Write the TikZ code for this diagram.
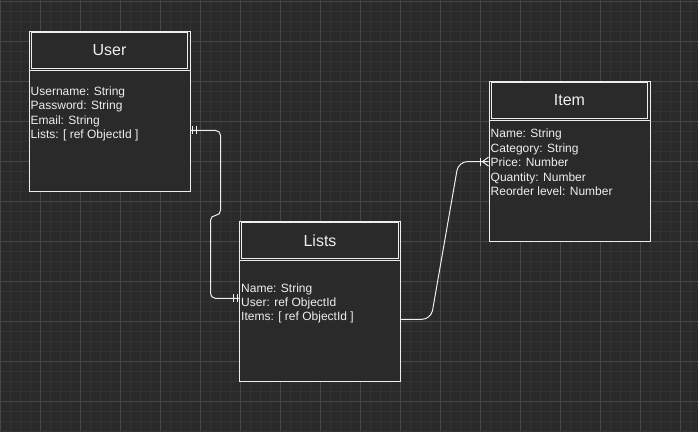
\documentclass[tikz,border=0pt]{standalone}
\usepackage{fontspec}
\setmainfont{Liberation Sans}
\usepackage{xcolor}
\usepackage{tikz}
\usetikzlibrary{positioning}
\definecolor{canvas}{RGB}{42,42,42}
\definecolor{gridminor}{RGB}{51,51,51}
\definecolor{gridmajor}{RGB}{70,70,70}
\definecolor{paleline}{RGB}{238,238,238}

\begin{document}
\begin{tikzpicture}[x=1pt, y=-1pt,
    entity/.style={rectangle, minimum width=161pt, minimum height=160pt, inner sep=0pt, draw=paleline, fill=canvas, line width=1pt},
    header/.style={rectangle, minimum width=156.4pt, minimum height=36pt, inner sep=0pt, draw=paleline, line width=1pt, text=paleline, font=\fontsize{16}{19}\selectfont},
    field/.style={inner sep=0pt, minimum height=14pt, text height=9pt, text depth=3pt, text=paleline, font=\fontsize{12}{14}\selectfont},
    link/.style={draw=paleline, line width=1pt}]

    % 背景网格
    \useasboundingbox (0,0) rectangle (698,431);
    \fill[canvas] (0,0) rectangle (698,431);
    \foreach \x in {0,10,...,690} \draw[gridminor, line width=1pt] (\x,0) -- (\x,431);
    \foreach \y in {1,11,...,431} \draw[gridminor, line width=1pt] (0,\y) -- (698,\y);
    \foreach \x in {0,40,...,680} \draw[gridmajor, line width=1pt] (\x,0) -- (\x,431);
    \foreach \y in {1,41,...,401} \draw[gridmajor, line width=1pt] (0,\y) -- (698,\y);

    % 实体
    \node [entity] (user) at (109.5,111) {};
    \node [header] (user-head) at ([yshift=-20pt]user.north) {User};
    \draw [link] ([yshift=-40pt]user.north west) -- ([yshift=-40pt]user.north east);

    \node [entity] (lists) at (320,301) {};
    \node [header] (lists-head) at ([yshift=-20pt]lists.north) {Lists};
    \draw [link] ([yshift=-40pt]lists.north west) -- ([yshift=-40pt]lists.north east);

    \node [entity] (item) at (569.5,161) {};
    \node [header] (item-head) at ([yshift=-20pt]item.north) {Item};
    \draw [link] ([yshift=-40pt]item.north west) -- ([yshift=-40pt]item.north east);

    % 字段
    \node [field, anchor=west] (u-name) at ([xshift=2pt, yshift=-61.7pt]user.north west) {Username: String};
    \node [field, below=0pt of u-name.south west, anchor=north west] (u-pass) {Password: String};
    \node [field, below=0pt of u-pass.south west, anchor=north west] (u-mail) {Email: String};
    \node [field, below=0pt of u-mail.south west, anchor=north west] (u-lists) {Lists: [ ref ObjectId ]};

    \node [field, anchor=west] (l-name) at ([xshift=2pt, yshift=-68.5pt]lists.north west) {Name: String};
    \node [field, below=0pt of l-name.south west, anchor=north west] (l-user) {User: ref ObjectId};
    \node [field, below=0pt of l-user.south west, anchor=north west] (l-items) {Items: [ ref ObjectId ]};

    \node [field, anchor=west] (i-name) at ([xshift=2pt, yshift=-54.3pt]item.north west) {Name: String};
    \node [field, below=0pt of i-name.south west, anchor=north west] (i-cat) {Category: String};
    \node [field, below=0pt of i-cat.south west, anchor=north west] (i-price) {Price: Number};
    \node [field, below=0pt of i-price.south west, anchor=north west] (i-qty) {Quantity: Number};
    \node [field, below=0pt of i-qty.south west, anchor=north west] (i-reorder) {Reorder level: Number};

    % 连接线
    \path (user.east |- u-lists) ++(0,-5) coordinate (ul-from);
    \path (lists.west |- l-user) ++(0,-5) coordinate (ul-to);
    \draw [link, rounded corners=5pt] (ul-from) -- ++(30,0) -- ++(0,85) -- ++(-10,0) |- (ul-to);
    \foreach \d in {2,6} {
        \draw [link] ([xshift=\d pt]ul-from) ++(0,-4) -- ++(0,8);
        \draw [link] ([xshift=-\d pt]ul-to) ++(0,-4) -- ++(0,8);
    }

    \path (lists.east |- l-items) ++(0,1.5) coordinate (li-from);
    \path (item.west |- i-price) ++(0,-2) coordinate (li-to);
    \draw [link, rounded corners=9pt] (li-from) -- ++(30,0) -- ([xshift=-30pt]li-to) -- (li-to);
    \draw [link] ([xshift=-8pt]li-to) ++(0,-4) -- ++(0,8);
    \draw [link] ([xshift=-6pt]li-to) -- ++(6,-4.5);
    \draw [link] ([xshift=-6pt]li-to) -- ++(6,4.5);
\end{tikzpicture}
\end{document}
